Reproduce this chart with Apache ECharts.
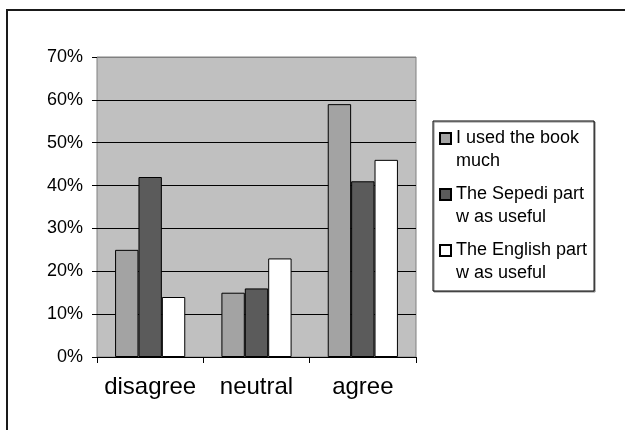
<!DOCTYPE html>
<html>
<head>
<meta charset="utf-8">
<script src="https://cdn.jsdelivr.net/npm/echarts@6/dist/echarts.min.js"></script>
<style>
  html, body { margin: 0; padding: 0; background: #fff; }
  #main { width: 625px; height: 430px; }
</style>
</head>
<body>
<div id="main"></div>
<script>
// data (percent)
var categories = ["disagree", "neutral", "agree"];
var seriesNames = ["I used the book\nmuch", "The Sepedi part\nw as useful", "The English part\nw as useful"];
var usedBook = [25, 15, 59];
var sepediUseful = [42, 16, 41];
var englishUseful = [14, 23, 46];
var yTicks = [0, 10, 20, 30, 40, 50, 60, 70];

var seriesValues = [usedBook, sepediUseful, englishUseful];
var seriesColors = ["#a3a3a3", "#5b5b5b", "#ffffff"];

var myChart = echarts.init(document.getElementById("main"));

// square at the top of a taller box so the marker sits on the first text line
var legendIcon = "path://M0,0h11v11h-11zM0,34";

// black gridlines, the top one is the grey plot border
var gridColors = yTicks.map(function (t, i) { return i === yTicks.length - 1 ? "#808080" : "#000"; });

var option = {
  animation: false,
  textStyle: { fontFamily: "Liberation Sans, Arial, sans-serif", color: "#000" },
  graphic: [
    {
      type: "rect",
      shape: { x: 7, y: 10, width: 700, height: 500 },
      style: { fill: "none", stroke: "#1a1a1a", lineWidth: 2 },
      silent: true
    }
  ],
  grid: {
    left: 97,
    right: 209,
    top: 57,
    bottom: 73,
    show: true,
    backgroundColor: "#c0c0c0",
    borderColor: "#808080",
    borderWidth: 1
  },
  legend: {
    orient: "vertical",
    left: 433,
    top: 121,
    itemWidth: 11,
    itemHeight: 34,
    itemGap: 10,
    padding: [6, 7, 6, 6],
    backgroundColor: "#fff",
    borderColor: "#000",
    borderWidth: 1,
    shadowColor: "#888",
    shadowOffsetX: 1,
    shadowOffsetY: 1,
    shadowBlur: 0,
    textStyle: { fontSize: 18, lineHeight: 23, color: "#000" },
    data: seriesNames.map(function (n) { return { name: n, icon: legendIcon }; })
  },
  xAxis: {
    type: "category",
    data: categories,
    axisLine: { lineStyle: { color: "#000", width: 1 } },
    axisTick: { show: true, length: 6, lineStyle: { color: "#000" } },
    axisLabel: { fontSize: 24, margin: 18, color: "#000", interval: 0 }
  },
  yAxis: {
    type: "value",
    min: yTicks[0],
    max: yTicks[yTicks.length - 1],
    interval: 10,
    axisLine: { show: false },
    axisTick: { show: true, length: 5, lineStyle: { color: "#000" } },
    axisLabel: { fontSize: 18, margin: 14, color: "#000", formatter: "{value}%" },
    splitLine: { show: true, lineStyle: { color: gridColors, width: 1 } }
  },
  series: seriesNames.map(function (name, i) {
    return {
      name: name,
      type: "bar",
      data: seriesValues[i],
      barGap: "0%",
      barCategoryGap: "34%",
      itemStyle: { color: seriesColors[i], borderColor: "#000", borderWidth: 1 }
    };
  })
};

myChart.setOption(option);
</script>
</body>
</html>
